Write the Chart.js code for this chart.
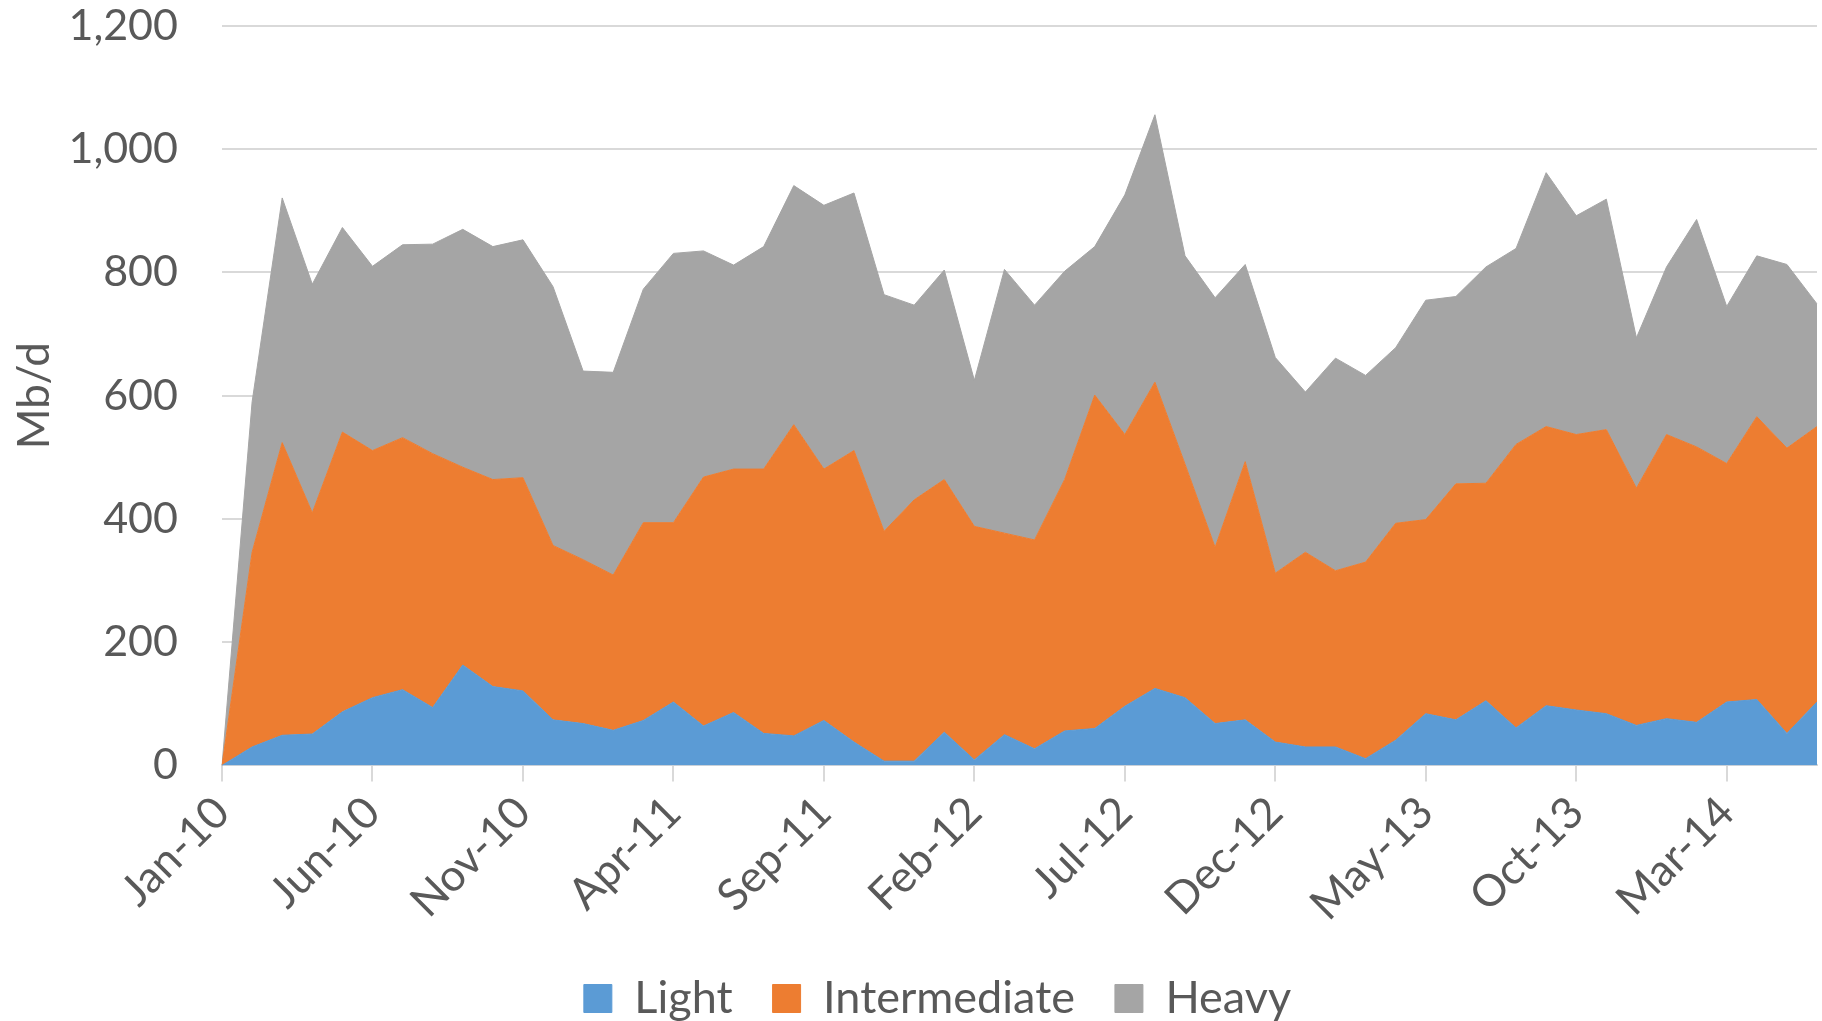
<!DOCTYPE html>
<html lang="en">
<head>
  <meta charset="UTF-8">
  <title>Crude imports by grade</title>
  <script src="https://cdn.jsdelivr.net/npm/chart.js"></script>
  <style>
    body {
      margin: 0;
      background: #ffffff;
    }
    .chart-box {
      width: 1822px;
      height: 1021px;
    }
  </style>
</head>
<body>
  <div class="chart-box">
    <canvas id="myChart"></canvas>
  </div>

  <script>
    // Monthly data, Jan-10 to Jun-14 (Mb/d)
    const months = [
      'Jan-10', 'Feb-10', 'Mar-10', 'Apr-10', 'May-10', 'Jun-10', 'Jul-10', 'Aug-10', 'Sep-10', 'Oct-10', 'Nov-10', 'Dec-10',
      'Jan-11', 'Feb-11', 'Mar-11', 'Apr-11', 'May-11', 'Jun-11', 'Jul-11', 'Aug-11', 'Sep-11', 'Oct-11', 'Nov-11', 'Dec-11',
      'Jan-12', 'Feb-12', 'Mar-12', 'Apr-12', 'May-12', 'Jun-12', 'Jul-12', 'Aug-12', 'Sep-12', 'Oct-12', 'Nov-12', 'Dec-12',
      'Jan-13', 'Feb-13', 'Mar-13', 'Apr-13', 'May-13', 'Jun-13', 'Jul-13', 'Aug-13', 'Sep-13', 'Oct-13', 'Nov-13', 'Dec-13',
      'Jan-14', 'Feb-14', 'Mar-14', 'Apr-14', 'May-14', 'Jun-14'
    ];

    const light = [
      0, 30, 49, 51, 87, 110, 123, 94, 163, 128, 121, 74,
      68, 57, 73, 103, 64, 86, 52, 48, 73, 38, 7, 7,
      54, 9, 50, 27, 56, 60, 96, 125, 110, 68, 74, 38,
      30, 30, 11, 41, 84, 74, 105, 61, 97, 90, 84, 65,
      76, 70, 103, 107, 52, 103
    ];

    const intermediate = [
      0, 316, 475, 359, 454, 401, 409, 412, 321, 336, 346, 283,
      266, 252, 321, 291, 404, 395, 429, 505, 408, 473, 373, 424,
      410, 379, 327, 339, 408, 541, 441, 497, 379, 286, 419, 274,
      316, 286, 319, 352, 315, 383, 353, 460, 453, 447, 461, 385,
      461, 447, 387, 459, 463, 447
    ];

    const heavy = [
      0, 244, 397, 371, 332, 299, 313, 340, 386, 378, 386, 420,
      306, 329, 379, 437, 367, 331, 361, 388, 428, 418, 384, 316,
      340, 237, 428, 381, 338, 241, 389, 434, 338, 405, 320, 350,
      260, 345, 303, 285, 356, 304, 351, 318, 412, 355, 374, 244,
      272, 369, 255, 261, 298, 199
    ];

    // only every 5th month gets a label
    const labelEvery = 5;

    const textColor = '#595959';
    const gridColor = '#d9d9d9';
    const fontFamily = 'Lato, "Open Sans", sans-serif';

    function areaSet(label, data, color, fill) {
      return {
        label: label,
        data: data,
        backgroundColor: color,
        borderColor: color,
        borderWidth: 1,
        pointRadius: 0,
        pointHoverRadius: 0,
        tension: 0,
        fill: fill
      };
    }

    // nudge the legend a bit to the right, like the original
    const legendShift = {
      id: 'legendShift',
      afterLayout(chart) {
        chart.legend.left += 25;
        chart.legend.right += 25;
      }
    };

    const ctx = document.getElementById('myChart').getContext('2d');

    const myChart = new Chart(ctx, {
      type: 'line',
      data: {
        labels: months,
        datasets: [
          areaSet('Light', light, '#5b9bd5', 'origin'),
          areaSet('Intermediate', intermediate, '#ed7d31', '-1'),
          areaSet('Heavy', heavy, '#a5a5a5', '-1')
        ]
      },
      plugins: [legendShift],
      options: {
        responsive: true,
        maintainAspectRatio: false,
        animation: false,
        layout: {
          padding: { top: 0, right: 5, left: 8, bottom: -10 }
        },
        plugins: {
          legend: {
            position: 'bottom',
            labels: {
              color: textColor,
              font: { family: fontFamily, size: 45 },
              boxWidth: 28,
              boxHeight: 28,
              padding: 40
            }
          },
          tooltip: { enabled: false }
        },
        scales: {
          x: {
            offset: false,
            grid: {
              display: true,
              drawOnChartArea: false,
              color: gridColor,
              lineWidth: 2,
              tickLength: 16
            },
            border: { display: true, color: gridColor, width: 2 },
            ticks: {
              autoSkip: false,
              maxRotation: 45,
              minRotation: 45,
              color: textColor,
              padding: 5,
              font: { family: fontFamily, size: 44 },
              callback: function (value, index) {
                return index % labelEvery === 0 ? months[index] : null;
              }
            }
          },
          y: {
            stacked: true,
            min: 0,
            max: 1200,
            afterFit: function (scale) {
              scale.width = 214;
              scale.paddingTop = 26;
            },
            grid: {
              color: gridColor,
              lineWidth: 2,
              drawTicks: false
            },
            border: { display: false },
            ticks: {
              stepSize: 200,
              color: textColor,
              padding: 44,
              font: { family: fontFamily, size: 43 },
              callback: function (value) {
                return value.toLocaleString('en-US');
              }
            },
            title: {
              display: true,
              text: 'Mb/d',
              color: textColor,
              font: { family: fontFamily, size: 44 },
              padding: { top: 0, bottom: 0 }
            }
          }
        }
      }
    });
  </script>
</body>
</html>
